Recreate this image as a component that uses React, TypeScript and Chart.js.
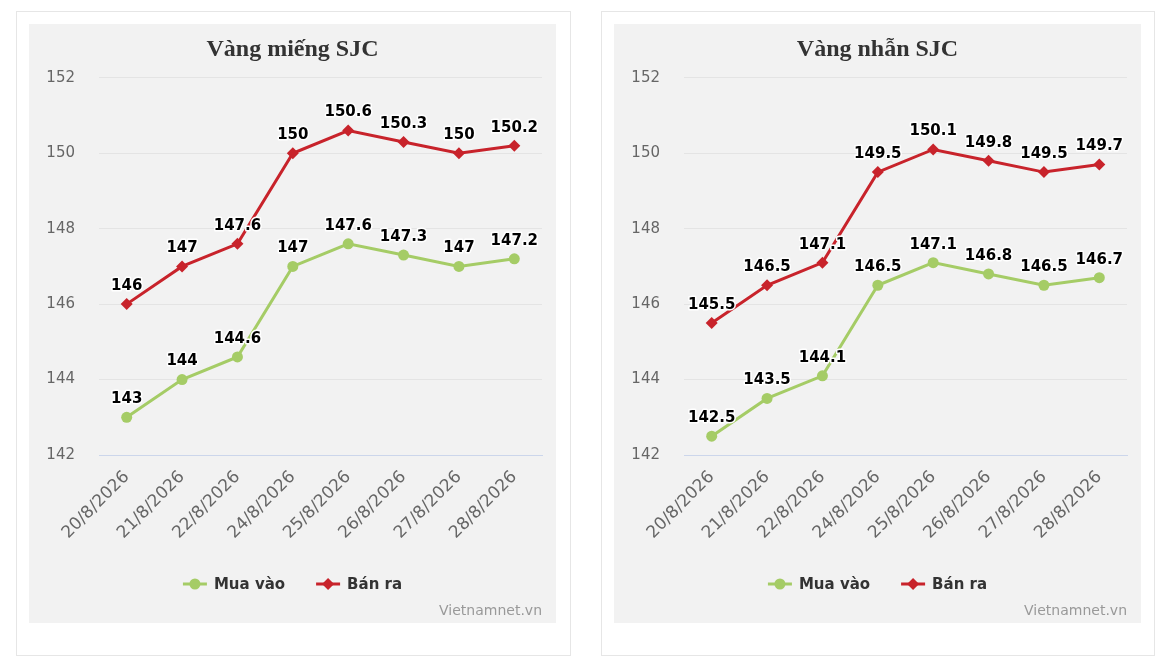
import React, { useEffect, useRef } from 'react';
import { Chart, registerables } from 'chart.js';

Chart.register(...registerables);

// Dữ liệu giá vàng (triệu đồng/lượng)
const dates = ['20/8/2026', '21/8/2026', '22/8/2026', '24/8/2026', '25/8/2026', '26/8/2026', '27/8/2026', '28/8/2026'];
const mienMuaVao = [143, 144, 144.6, 147, 147.6, 147.3, 147, 147.2];
const mienBanRa = [146, 147, 147.6, 150, 150.6, 150.3, 150, 150.2];
const nhanMuaVao = [142.5, 143.5, 144.1, 146.5, 147.1, 146.8, 146.5, 146.7];
const nhanBanRa = [145.5, 146.5, 147.1, 149.5, 150.1, 149.8, 149.5, 149.7];
const yMin = 142;
const yMax = 152;
const yStep = 2;
const seriesNames = ['Mua vào', 'Bán ra'];
const credit = 'Vietnamnet.vn';

const GREEN = '#a5cc66';
const RED = '#c8232b';
const SANS = '"DejaVu Sans", sans-serif';

const drawMarker = (ctx: CanvasRenderingContext2D, style: string, x: number, y: number, color: string) => {
  ctx.fillStyle = color;
  ctx.beginPath();
  if (style === 'circle') {
    ctx.arc(x, y, 5.5, 0, Math.PI * 2);
  } else {
    const r = 6;
    ctx.moveTo(x, y - r);
    ctx.lineTo(x + r, y);
    ctx.lineTo(x, y + r);
    ctx.lineTo(x - r, y);
    ctx.closePath();
  }
  ctx.fill();
};

// Nhãn giá trị phía trên mỗi điểm
const valueLabels = {
  id: 'valueLabels',
  afterDatasetsDraw(chart: Chart) {
    const ctx = chart.ctx;
    ctx.save();
    ctx.font = `bold 15px ${SANS}`;
    ctx.textAlign = 'center';
    ctx.textBaseline = 'middle';
    ctx.lineJoin = 'round';
    chart.data.datasets.forEach((ds, i) => {
      const meta = chart.getDatasetMeta(i);
      meta.data.forEach((pt, j) => {
        const text = String(ds.data[j]);
        const x = pt.x;
        const y = pt.y - 18;
        ctx.strokeStyle = '#ffffff';
        ctx.lineWidth = 3;
        ctx.strokeText(text, x, y);
        ctx.fillStyle = '#000000';
        ctx.fillText(text, x, y);
      });
    });
    ctx.restore();
  },
};

// Chú thích + nguồn ở dưới cùng
const legendAndCredit = {
  id: 'legendAndCredit',
  afterDraw(chart: Chart) {
    const ctx = chart.ctx;
    ctx.save();
    ctx.font = `bold 15px ${SANS}`;
    ctx.textBaseline = 'middle';
    const lineW = 24;
    const gapText = 7;
    const gapItem = 31;
    const items = chart.data.datasets.map((ds: any) => ({
      label: ds.label as string,
      color: ds.borderColor as string,
      style: ds.pointStyle as string,
      w: ctx.measureText(ds.label).width,
    }));
    const total = items.reduce((s, it) => s + lineW + gapText + it.w, 0) + gapItem * (items.length - 1);
    let x = (chart.width - total) / 2;
    const y = 560;
    items.forEach((it) => {
      ctx.strokeStyle = it.color;
      ctx.lineWidth = 3;
      ctx.beginPath();
      ctx.moveTo(x, y);
      ctx.lineTo(x + lineW, y);
      ctx.stroke();
      drawMarker(ctx, it.style, x + lineW / 2, y, it.color);
      ctx.fillStyle = '#333333';
      ctx.textAlign = 'left';
      ctx.fillText(it.label, x + lineW + gapText, y + 1);
      x += lineW + gapText + it.w + gapItem;
    });

    ctx.font = `14px ${SANS}`;
    ctx.fillStyle = '#999999';
    ctx.textAlign = 'right';
    ctx.fillText(credit, chart.chartArea.right, 587);
    ctx.restore();
  },
};

interface GoldChartProps {
  title: string;
  buy: number[];
  sell: number[];
}

const GoldChart: React.FC<GoldChartProps> = ({ title, buy, sell }) => {
  const canvasRef = useRef<HTMLCanvasElement>(null);

  useEffect(() => {
    if (!canvasRef.current) return;
    const chart = new Chart(canvasRef.current, {
      type: 'line',
      data: {
        labels: dates,
        datasets: [
          {
            label: seriesNames[0],
            data: buy,
            borderColor: GREEN,
            backgroundColor: GREEN,
            borderWidth: 3,
            pointStyle: 'circle',
            pointRadius: 5.5,
            pointBorderWidth: 0,
            tension: 0,
          },
          {
            label: seriesNames[1],
            data: sell,
            borderColor: RED,
            backgroundColor: RED,
            borderWidth: 3,
            pointStyle: 'rectRot',
            pointRadius: 6,
            pointBorderWidth: 0,
            tension: 0,
          },
        ],
      },
      options: {
        animation: false,
        responsive: true,
        maintainAspectRatio: false,
        layout: {
          padding: { left: 14, right: 14, top: 0, bottom: 68 },
        },
        plugins: {
          legend: { display: false },
          tooltip: { enabled: false },
          title: {
            display: true,
            text: title,
            color: '#333333',
            font: { family: '"Liberation Serif", serif', size: 24, weight: 'bold' },
            padding: { top: 11, bottom: 14 },
          },
        },
        scales: {
          x: {
            offset: true,
            grid: { display: false, drawTicks: false },
            border: { display: true, color: '#ccd6eb', width: 1 },
            ticks: {
              color: '#666666',
              font: { family: SANS, size: 17 },
              minRotation: 45,
              maxRotation: 45,
              padding: 12,
            },
            afterFit: (scale: any) => {
              scale.height = 100;
            },
          },
          y: {
            min: yMin,
            max: yMax,
            grid: { color: '#e4e4e4', drawTicks: false },
            border: { display: false },
            ticks: {
              stepSize: yStep,
              color: '#666666',
              font: { family: SANS, size: 15 },
              padding: 24,
            },
            afterFit: (scale: any) => {
              scale.width = 56;
            },
          },
        },
      },
      plugins: [valueLabels, legendAndCredit],
    });
    return () => chart.destroy();
  }, [title, buy, sell]);

  return (
    <div
      style={{
        boxSizing: 'border-box',
        width: 555,
        height: 645,
        border: '1px solid #e6e6e6',
        padding: '12px 0 0 12px',
        background: '#ffffff',
      }}
    >
      <div style={{ position: 'relative', width: 527, height: 599, background: '#f2f2f2' }}>
        <canvas ref={canvasRef} />
      </div>
    </div>
  );
};

export default function App() {
  return (
    <div style={{ display: 'flex', gap: 30, paddingTop: 3, paddingLeft: 8 }}>
      <GoldChart title="Vàng miếng SJC" buy={mienMuaVao} sell={mienBanRa} />
      <GoldChart title="Vàng nhẫn SJC" buy={nhanMuaVao} sell={nhanBanRa} />
    </div>
  );
}
